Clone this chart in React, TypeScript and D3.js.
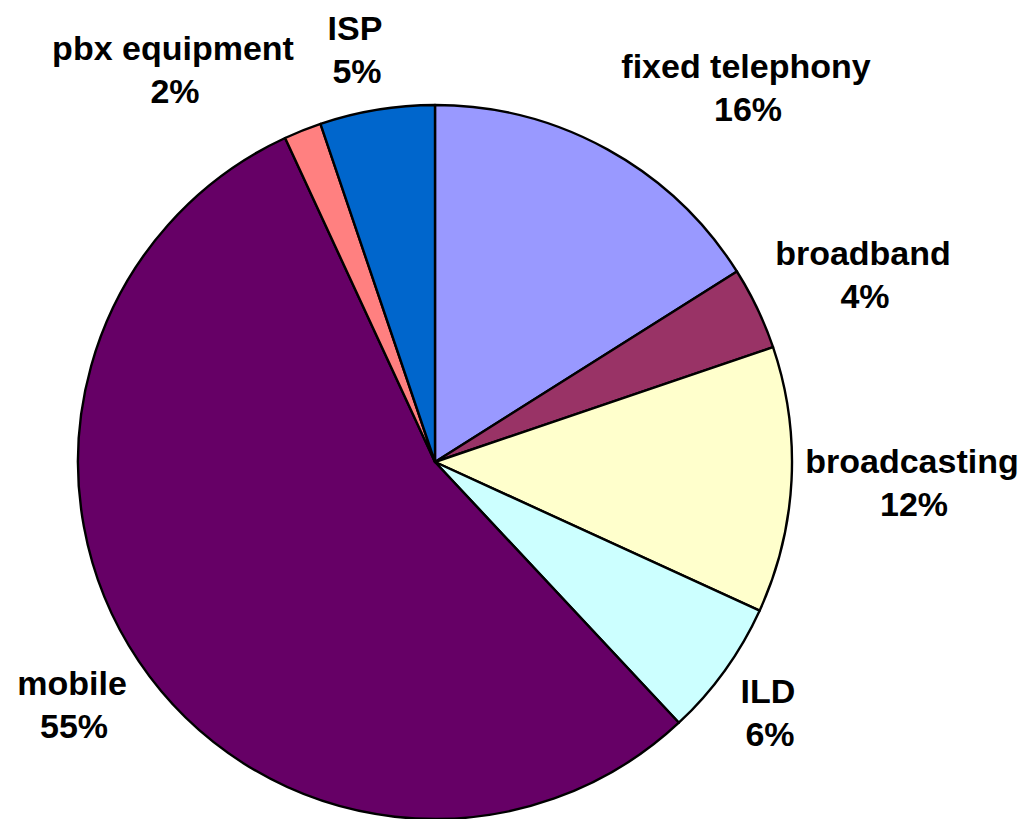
import { useEffect, useRef } from 'react';
import * as d3 from 'd3';

// slice order: clockwise from 12 o'clock
const categories = ['fixed telephony', 'broadband', 'broadcasting', 'ILD', 'mobile', 'pbx equipment', 'ISP'];
const shares = [16.05, 3.75, 12.05, 6.2, 55.1, 1.7, 5.2];
const colors = ['#9999FF', '#993366', '#FFFFCC', '#CCFFFF', '#660066', '#FF8080', '#0066CC'];

// label anchors (offset from pie centre, first line baseline)
const labelOffsets = [
    [311, -384],
    [428, -197],
    [477, 11],
    [333, 241],
    [-363, 233],
    [-262, -402],
    [-80, -422],
];

const App = () => {
    const svgRef = useRef(null);

    useEffect(() => {
        const svg = d3.select(svgRef.current);
        svg.selectAll('*').remove();

        const width = 1018;
        const height = 819;
        const cx = 435;
        const cy = 462;
        const radius = 357;

        const total = d3.sum(shares);
        const data = categories.map((c, i) => ({ name: c, value: shares[i], i }));

        const pie = d3.pie().value((d: any) => d.value).sort(null);
        const arc = d3.arc().innerRadius(0).outerRadius(radius);

        const g = svg.append('g').attr('transform', `translate(${cx},${cy})`);

        g.selectAll('path')
            .data(pie(data as any))
            .enter()
            .append('path')
            .attr('d', arc as any)
            .attr('fill', (d: any) => colors[d.data.i])
            .attr('stroke', '#000')
            .attr('stroke-width', 2.4)
            .attr('stroke-linejoin', 'round');

        // labels: name + percent, two centred lines
        const labels = g.selectAll('.lbl')
            .data(data)
            .enter()
            .append('text')
            .attr('class', 'lbl')
            .attr('text-anchor', 'middle')
            .style('font-family', '"Liberation Sans", Arial, sans-serif')
            .style('font-weight', 'bold')
            .style('font-size', '34px')
            .attr('fill', '#000');

        labels.append('tspan')
            .attr('x', d => labelOffsets[d.i][0])
            .attr('y', d => labelOffsets[d.i][1])
            .text(d => d.name);

        labels.append('tspan')
            .attr('x', d => labelOffsets[d.i][0] + 2)
            .attr('dy', 43)
            .text(d => `${Math.round((d.value / total) * 100)}%`);

        svg.attr('width', width).attr('height', height);
    }, []);

    return (
        <svg ref={svgRef} width={1018} height={819} style={{ position: 'absolute', left: 0, top: 0, background: '#fff' }}></svg>
    );
};

export default App;
